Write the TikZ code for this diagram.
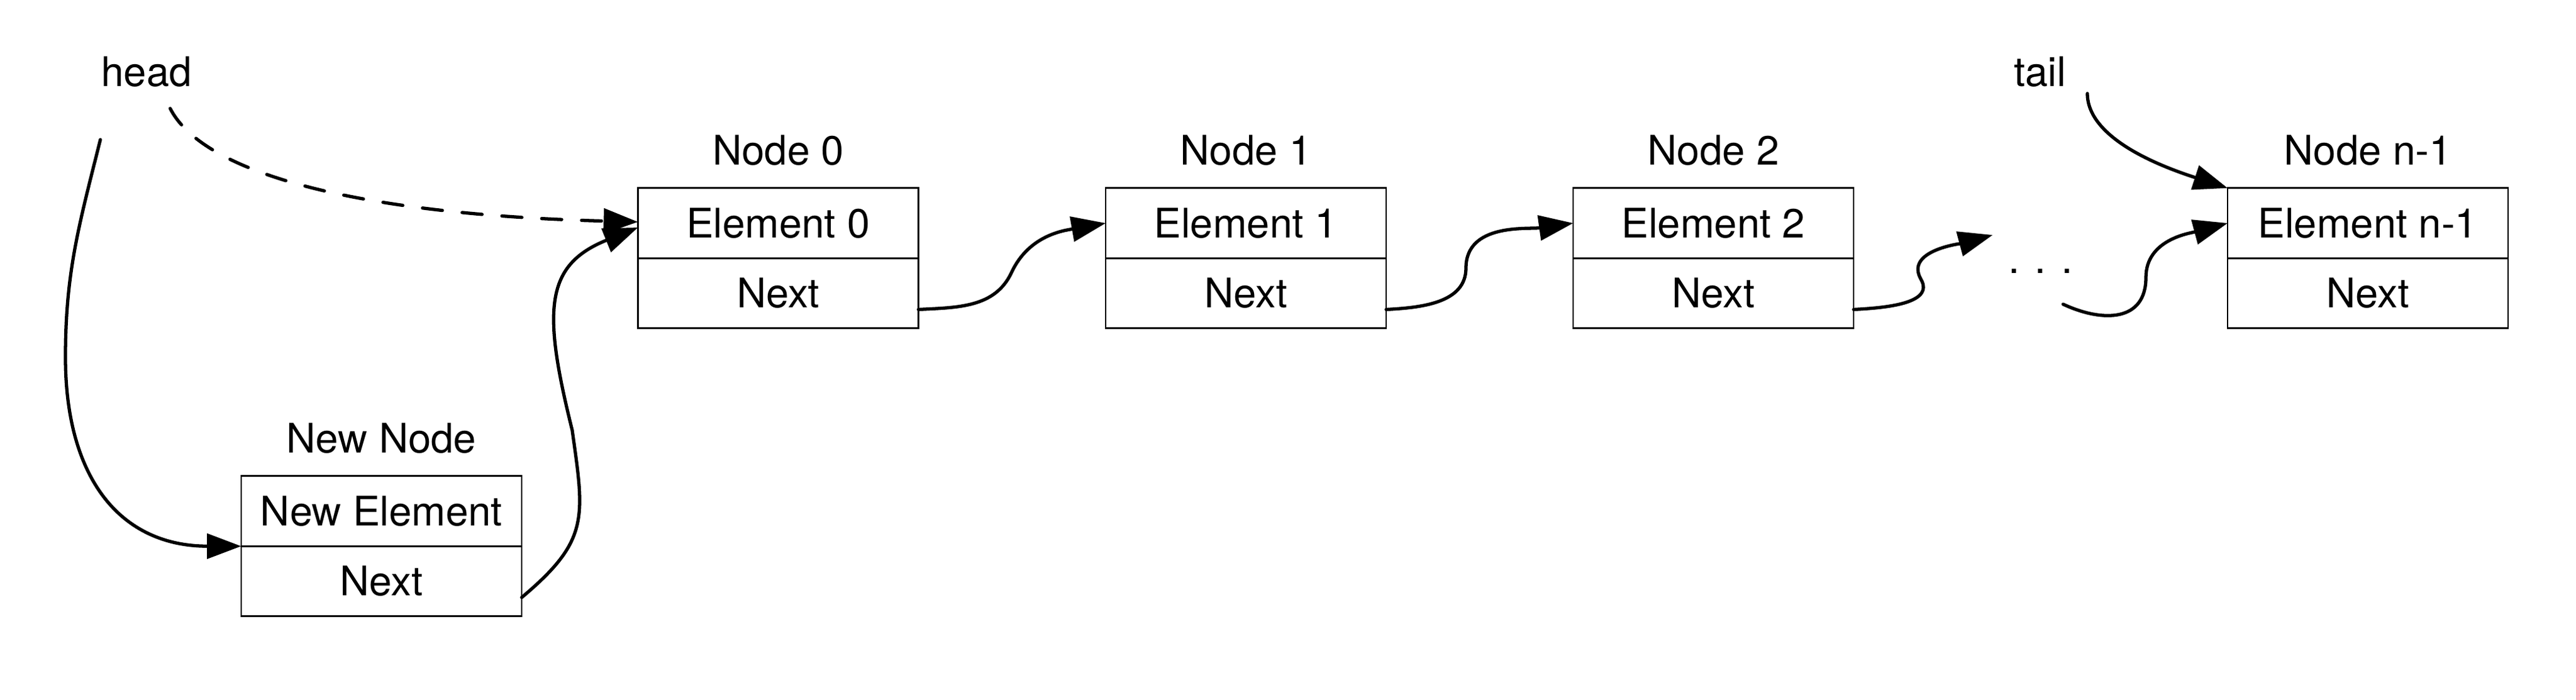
\documentclass[tikz,border=0pt]{standalone}
\usepackage{fontspec}
\setmainfont{TeX Gyre Heros}
\usetikzlibrary{positioning,arrows.meta}

\tikzset{
    cell/.style={draw, line width=0.8pt, minimum width=4.5cm, minimum height=1.125cm, inner sep=0pt, outer sep=0pt},
    link/.style={-{Triangle[length=5.5mm,width=4mm]}, line width=1.5pt, line cap=round},
}

\begin{document}
\begin{tikzpicture}[font=\fontsize{18.6}{22}\selectfont]
\useasboundingbox (0,0) rectangle (41.33,-11.23);

% the list
\foreach \i/\x in {0/12.485,1/19.99,2/27.49} {
    \node[cell] (e\i) at (\x,-3.58) {Element \i};
    \node[cell, below=0pt of e\i] (n\i) {Next};
    \node (l\i) at (\x,-2.41) {Node \i};
}
\node[cell] (elast) at (37.99,-3.58) {Element n-1};
\node[cell, below=0pt of elast] (nlast) {Next};
\node (llast) at (37.99,-2.41) {Node n-1};

% the node to insert
\node[cell] (enew) at (6.12,-8.20) {New Element};
\node[cell, below=0pt of enew] (nnew) {Next};
\node (lnew) at (6.12,-7.03) {New Node};

\node (head) at (2.35,-1.15) {head};
\node (tail) at (32.73,-1.15) {tail};
\node[anchor=base] (dots) at (32.74,-4.38) {. . .};

% ends and bends of the links
\coordinate (hd1) at (1.61,-2.24);
\coordinate (hd2) at (2.73,-1.74);
\coordinate (bhd) at (1.05,-5.73);
\coordinate (bnew) at (9.18,-6.90);
\coordinate (b01) at (16.23,-4.37);
\coordinate (b12) at (23.52,-4.30);
\coordinate (b2d) at (30.82,-4.48);
\coordinate (dt1) at (31.97,-3.77);
\coordinate (dt2) at (33.10,-4.88);
\coordinate (bdl) at (34.43,-4.45);
\coordinate (tl1) at (33.49,-1.50);

\draw[link] (hd1) to[out=-104,in=90] (bhd) to[out=-90,in=180,looseness=1.2] (enew.south west);
\draw[link, dash pattern=on 0.32cm off 0.32cm] (hd2) .. controls (3.30,-2.85) and (6.00,-3.45) .. ([yshift=0.02cm]e0.west);
\draw[link] ([yshift=-0.26cm]nnew.east) to[out=40,in=-82,looseness=1.3] (bnew)
    to[out=104,in=202,out looseness=1.5,in looseness=1.2] ([yshift=-0.07cm]e0.west);
\draw[link] ([yshift=-0.26cm]n0.east) to[out=3,in=-115] (b01) to[out=65,in=190] (e1.west);
\draw[link] ([yshift=-0.26cm]n1.east) to[out=3,in=-90] (b12) to[out=90,in=188] (e2.west);
\draw[link] ([yshift=-0.26cm]n2.east) to[out=3,in=-60] (b2d) to[out=120,in=195] (dt1);
\draw[link] (dt2) to[out=-25,in=-90,looseness=1.3] (bdl) to[out=90,in=195] (elast.west);
\draw[link] (tl1) to[out=-90,in=162,out looseness=0.7] (elast.north west);
\end{tikzpicture}
\end{document}
